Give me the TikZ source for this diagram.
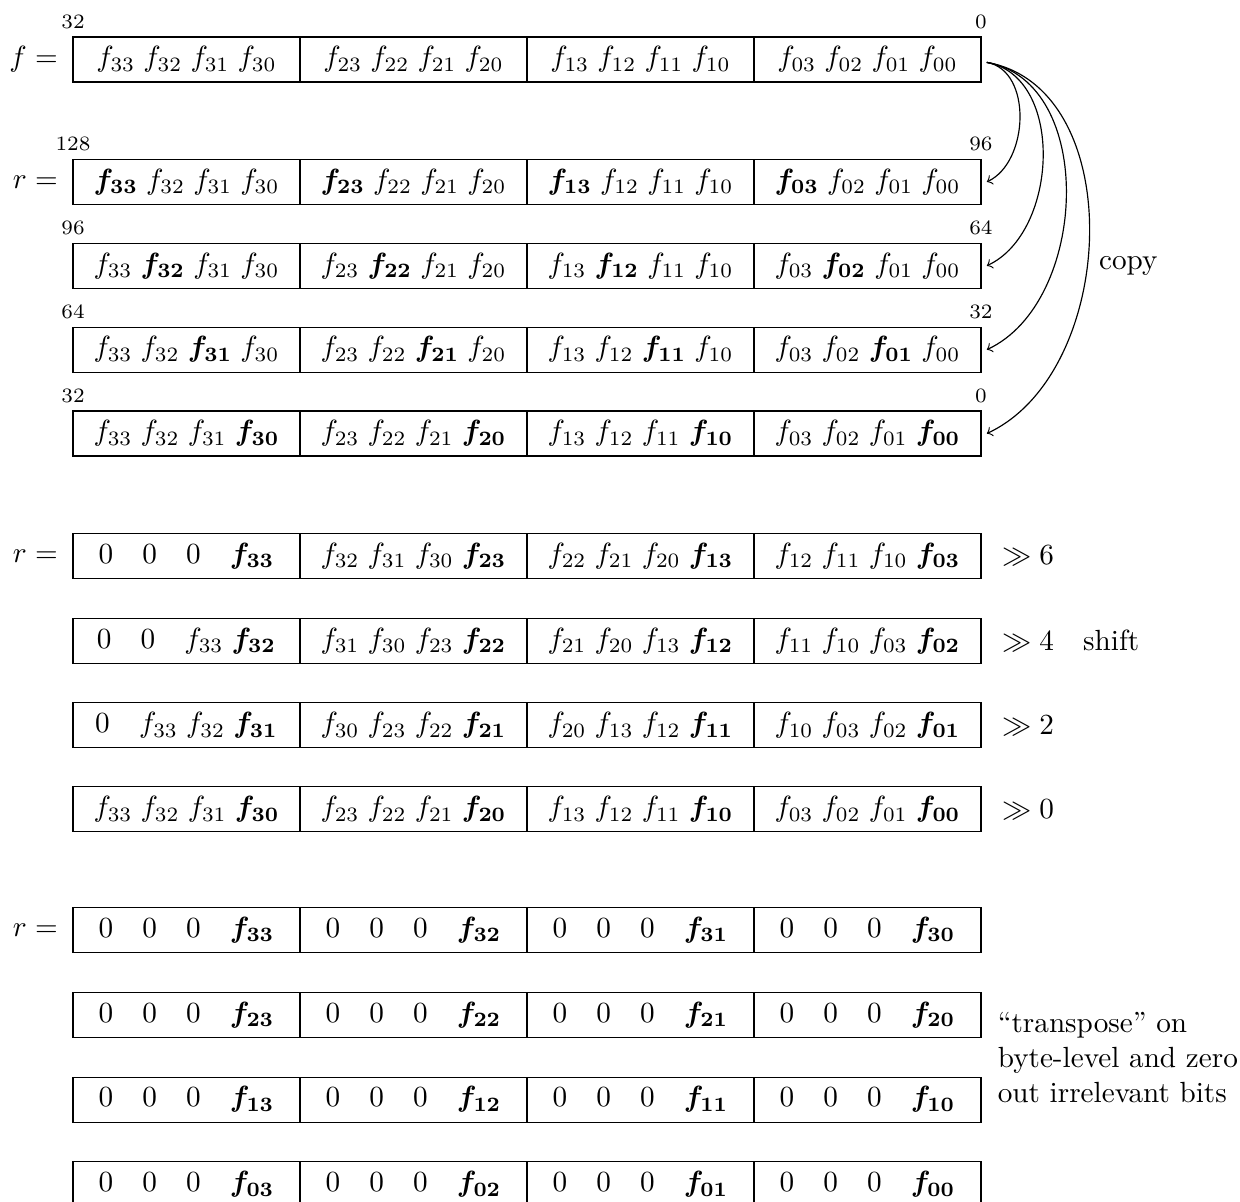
\documentclass[tikz,border=0pt]{standalone}
\usepackage{amsmath}
\usepackage{bm}
\usetikzlibrary{positioning}

\newcommand{\fbold}[1]{\bm{f_{#1}}}
% one 128-bit word as four 32-bit cells
\newcommand{\wordrow}[6]{%
  \node[cell, anchor=west] (#1-1) at (0.879, #2) {#3};
  \node[cell, right=0pt of #1-1] (#1-2) {#4};
  \node[cell, right=0pt of #1-2] (#1-3) {#5};
  \node[cell, right=0pt of #1-3] (#1-4) {#6};
}

\begin{document}
\begin{tikzpicture}[
  cell/.style = {
    draw = black,
    inner sep = 0,
    outer sep = 0,
    minimum width = 2.733cm,
    minimum height = 0.542cm,
  },
  bitlabel/.style = {
    font = \scriptsize,
    inner sep = 1pt,
  },
]
\useasboundingbox (0,0) rectangle (14.93,-14.47);

% input and copies
\wordrow{f}{-0.716}{$f_{33}\;f_{32}\;f_{31}\;f_{30}$}{$f_{23}\;f_{22}\;f_{21}\;f_{20}$}{$f_{13}\;f_{12}\;f_{11}\;f_{10}$}{$f_{03}\;f_{02}\;f_{01}\;f_{00}$}
\wordrow{ra}{-2.19}{$\fbold{33}\;f_{32}\;f_{31}\;f_{30}$}{$\fbold{23}\;f_{22}\;f_{21}\;f_{20}$}{$\fbold{13}\;f_{12}\;f_{11}\;f_{10}$}{$\fbold{03}\;f_{02}\;f_{01}\;f_{00}$}
\wordrow{rb}{-3.20}{$f_{33}\;\fbold{32}\;f_{31}\;f_{30}$}{$f_{23}\;\fbold{22}\;f_{21}\;f_{20}$}{$f_{13}\;\fbold{12}\;f_{11}\;f_{10}$}{$f_{03}\;\fbold{02}\;f_{01}\;f_{00}$}
\wordrow{rc}{-4.21}{$f_{33}\;f_{32}\;\fbold{31}\;f_{30}$}{$f_{23}\;f_{22}\;\fbold{21}\;f_{20}$}{$f_{13}\;f_{12}\;\fbold{11}\;f_{10}$}{$f_{03}\;f_{02}\;\fbold{01}\;f_{00}$}
\wordrow{rd}{-5.22}{$f_{33}\;f_{32}\;f_{31}\;\fbold{30}$}{$f_{23}\;f_{22}\;f_{21}\;\fbold{20}$}{$f_{13}\;f_{12}\;f_{11}\;\fbold{10}$}{$f_{03}\;f_{02}\;f_{01}\;\fbold{00}$}

\node[left=0.6mm of f-1] (f-eq) {$f =$};
\node[left=0.6mm of ra-1] (ra-eq) {$r =$};

\node[bitlabel, above=1.6pt of f-1.north west] (f-hi) {32};
\node[bitlabel, above=1.6pt of f-4.north east] (f-lo) {0};
\node[bitlabel, above=1.6pt of ra-1.north west] (ra-hi) {128};
\node[bitlabel, above=1.6pt of ra-4.north east] (ra-lo) {96};
\node[bitlabel, above=1.6pt of rb-1.north west] (rb-hi) {96};
\node[bitlabel, above=1.6pt of rb-4.north east] (rb-lo) {64};
\node[bitlabel, above=1.6pt of rc-1.north west] (rc-hi) {64};
\node[bitlabel, above=1.6pt of rc-4.north east] (rc-lo) {32};
\node[bitlabel, above=1.6pt of rd-1.north west] (rd-hi) {32};
\node[bitlabel, above=1.6pt of rd-4.north east] (rd-lo) {0};

\foreach \r in {ra,rb,rc,rd}
  \draw[->] ([xshift=2pt,yshift=-1pt]f-4.east) to[out=-10, in=25] ([xshift=2pt]\r-4.east);
\node[anchor=west] (copy) at (13.11,-3.20) {copy};

% shifts
\wordrow{s1}{-6.693}{$0\quad 0\quad 0\quad \fbold{33}$}{$f_{32}\;f_{31}\;f_{30}\;\fbold{23}$}{$f_{22}\;f_{21}\;f_{20}\;\fbold{13}$}{$f_{12}\;f_{11}\;f_{10}\;\fbold{03}$}
\wordrow{s2}{-7.716}{$0\quad 0\quad f_{33}\;\fbold{32}$}{$f_{31}\;f_{30}\;f_{23}\;\fbold{22}$}{$f_{21}\;f_{20}\;f_{13}\;\fbold{12}$}{$f_{11}\;f_{10}\;f_{03}\;\fbold{02}$}
\wordrow{s3}{-8.734}{$0\quad f_{33}\;f_{32}\;\fbold{31}$}{$f_{30}\;f_{23}\;f_{22}\;\fbold{21}$}{$f_{20}\;f_{13}\;f_{12}\;\fbold{11}$}{$f_{10}\;f_{03}\;f_{02}\;\fbold{01}$}
\wordrow{s4}{-9.745}{$f_{33}\;f_{32}\;f_{31}\;\fbold{30}$}{$f_{23}\;f_{22}\;f_{21}\;\fbold{20}$}{$f_{13}\;f_{12}\;f_{11}\;\fbold{10}$}{$f_{03}\;f_{02}\;f_{01}\;\fbold{00}$}

\node[left=0.6mm of s1-1] (s1-eq) {$r =$};
\node[right=1.3mm of s1-4] (sh6) {$\gg 6$};
\node[right=1.3mm of s2-4] (sh4) {$\gg 4$\quad shift};
\node[right=1.3mm of s3-4] (sh2) {$\gg 2$};
\node[right=1.3mm of s4-4] (sh0) {$\gg 0$};

% transpose
\wordrow{t1}{-11.20}{$0\quad 0\quad 0\quad \fbold{33}$}{$0\quad 0\quad 0\quad \fbold{32}$}{$0\quad 0\quad 0\quad \fbold{31}$}{$0\quad 0\quad 0\quad \fbold{30}$}
\wordrow{t2}{-12.22}{$0\quad 0\quad 0\quad \fbold{23}$}{$0\quad 0\quad 0\quad \fbold{22}$}{$0\quad 0\quad 0\quad \fbold{21}$}{$0\quad 0\quad 0\quad \fbold{20}$}
\wordrow{t3}{-13.24}{$0\quad 0\quad 0\quad \fbold{13}$}{$0\quad 0\quad 0\quad \fbold{12}$}{$0\quad 0\quad 0\quad \fbold{11}$}{$0\quad 0\quad 0\quad \fbold{10}$}
\wordrow{t4}{-14.26}{$0\quad 0\quad 0\quad \fbold{03}$}{$0\quad 0\quad 0\quad \fbold{02}$}{$0\quad 0\quad 0\quad \fbold{01}$}{$0\quad 0\quad 0\quad \fbold{00}$}

\node[left=0.6mm of t1-1] (t1-eq) {$r =$};
\node[anchor=west, align=left] (trans) at (11.89,-12.73) {“transpose” on\\byte-level and zero\\out irrelevant bits};
\end{tikzpicture}
\end{document}
